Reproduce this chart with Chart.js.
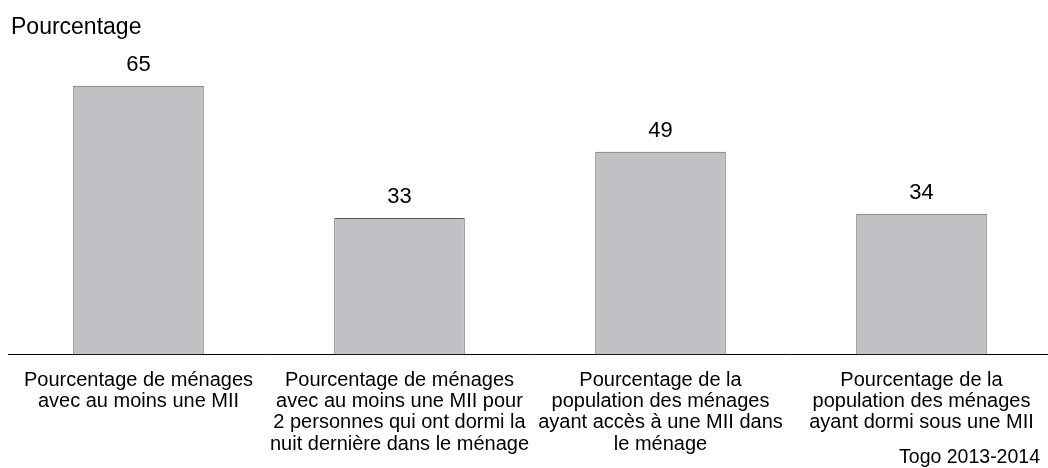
<!DOCTYPE html>
<html>
<head>
<meta charset="utf-8">
<script src="https://cdn.jsdelivr.net/npm/chart.js@4"></script>
<style>
  html, body { margin: 0; padding: 0; background: #fff; overflow: hidden; }
  #wrap { width: 1056px; height: 468px; }
</style>
</head>
<body>
<div id="wrap"><canvas id="graph_canvas" width="1056" height="468"></canvas></div>
<script>
const CATEGORIES = [
    ["Pourcentage de ménages", "avec au moins une MII"],
    ["Pourcentage de ménages", "avec au moins une MII pour", "2 personnes qui ont dormi la", "nuit dernière dans le ménage"],
    ["Pourcentage de la", "population des ménages", "ayant accès à une MII dans", "le ménage"],
    ["Pourcentage de la", "population des ménages", "ayant dormi sous une MII"]
];
const VALUES = [65, 33, 49, 34];
const Y_TITLE = "Pourcentage";
const SOURCE = "Togo 2013-2014";

const FONT = "'Liberation Sans', Arial, sans-serif";

// value labels, axis title and source note
const extraText = {
    id: 'extraText',
    afterDatasetsDraw(chart) {
        const ctx = chart.ctx;
        ctx.save();
        ctx.fillStyle = '#000';
        ctx.textBaseline = 'middle';
        ctx.font = '22px ' + FONT;
        ctx.textAlign = 'center';
        chart.getDatasetMeta(0).data.forEach((bar, i) => {
            ctx.fillText(VALUES[i], bar.x, bar.y - 21);
        });
        ctx.font = '23px ' + FONT;
        ctx.textAlign = 'left';
        ctx.fillText(Y_TITLE, 11, 28);
        ctx.font = '19.5px ' + FONT;
        ctx.textAlign = 'right';
        ctx.fillText(SOURCE, 1040, 458);
        ctx.restore();
    }
};

document.addEventListener("DOMContentLoaded", function () {
    Chart.defaults.font.family = FONT;
    Chart.defaults.color = '#000';

    new Chart(document.getElementById('graph_canvas'), {
        type: 'bar',
        data: {
            labels: CATEGORIES,
            datasets: [{
                data: VALUES,
                backgroundColor: '#c0c1c5',
                borderColor: '#5a5a5a',
                borderWidth: 1,
                categoryPercentage: 1,
                barPercentage: 0.5
            }]
        },
        options: {
            responsive: false,
            animation: false,
            layout: { padding: { left: 8, right: 4, top: 65, bottom: 6 } },
            plugins: {
                legend: { display: false },
                tooltip: { enabled: false }
            },
            scales: {
                x: {
                    grid: { display: false },
                    border: { display: true, color: '#000', width: 1 },
                    ticks: {
                        font: { size: 20, lineHeight: 1.07 },
                        color: '#000',
                        padding: 7,
                        maxRotation: 0,
                        autoSkip: false
                    }
                },
                y: {
                    display: false,
                    min: 0,
                    max: 70
                }
            }
        },
        plugins: [extraText]
    });
});
</script>
</body>
</html>
